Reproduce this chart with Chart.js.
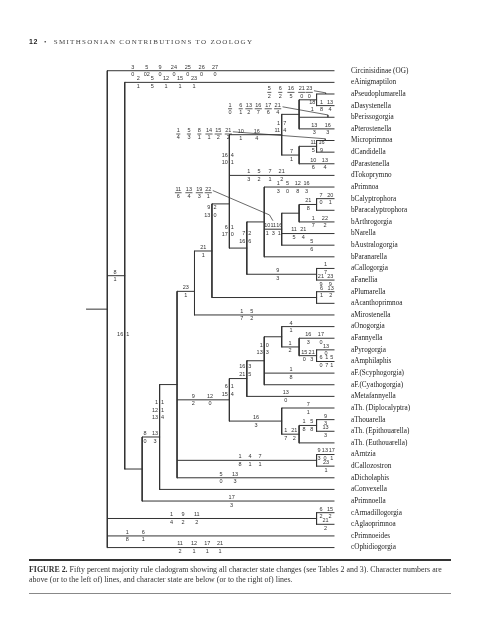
<!DOCTYPE html>
<html><head><meta charset="utf-8">
<script src="https://cdn.jsdelivr.net/npm/chart.js@4.4.0/dist/chart.umd.min.js"></script>
<style>
html,body{margin:0;padding:0;background:#fff;}
#wrap{position:relative;width:495px;height:640px;overflow:hidden;}
#c{position:absolute;left:0;top:0;}
.hdr{position:absolute;left:29px;top:38px;font:7px "Liberation Serif";letter-spacing:1.3px;color:#444;white-space:nowrap;}
.hdr b{font-family:"Liberation Sans";letter-spacing:0.5px;color:#222;}
.r1{position:absolute;left:29px;width:422px;top:559px;height:2px;background:#333;}
.r2{position:absolute;left:29px;width:422px;top:593px;height:1px;background:#888;}
.cap{position:absolute;left:29px;width:424px;top:565px;font:7.9px/9.7px "Liberation Serif";color:#333;}
</style></head><body>
<div id="wrap">
<canvas id="c" width="495" height="640"></canvas>
<div class="hdr"><b>12</b>&nbsp;&nbsp;•&nbsp;&nbsp;SMITHSONIAN CONTRIBUTIONS TO ZOOLOGY</div>
<div class="r1"></div>
<div class="cap"><b>FIGURE 2.</b> Fifty percent majority rule cladogram showing all character state changes (see Tables 2 and 3). Character numbers are above (or to the left of) lines, and character state are below (or to the right of) lines.</div>
<div class="r2"></div>
</div>
<script>
// ---------- DATA ----------
const taxa = ['Circinisidinae (OG)','eAinigmaptilon','aPseudoplumarella','aDasystenella','bPerissogorgia','aPterostenella','Microprimnoa','dCandidella','dParastenella','dTokoprymno','aPrimnoa','bCalyptrophora','bParacalyptrophora','bArthrogorgia','bNarella','bAustralogorgia','bParanarella','aCallogorgia','aFanellia','aPlumarella','aAcanthoprimnoa','aMirostenella','aOnogorgia','aFannyella','aPyrogorgia','aAmphilaphis','aF.(Scyphogorgia)','aF.(Cyathogorgia)','aMetafannyella','aTh. (Diplocalyptra)','aThouarella','aTh. (Epithouarella)','aTh. (Euthouarella)','aArntzia','dCallozostron','aDicholaphis','aConvexella','aPrimnoella','cArmadillogorgia','cAglaoprimnoa','cPrimnoeides','cOphidiogorgia'];

// clades: name and children (numbers = taxa indices)
const cladeNames = ['root','A','Q','S','C','D','E','I','F','G','L','K','J','N','O','QQ','RR','SS','FG','FF','T','U','W','X','Y','Z','V','AA','BB','CC','DD'];
const cladeKids = [
 [0,'A','DD',40,41], [1,'Q'], ['S',37], ['C',36], ['D','T','CC',35], ['E',21], ['I','FF'],
 ['F',9,'N'], ['G','K'], ['L',4,5], [2,3], ['J',8], [6,7], ['O','FG'], [10,'QQ',16],
 ['RR',14,15], ['SS',13], [11,12], [17,18], [19,20], ['U','V'], ['W',28], ['X',26,27],
 [22,'Y'], [23,'Z'], [24,25], [29,'AA'], ['BB',32], [30,31], [33,34], [38,39]
];

// character changes on horizontal branches: [branch, characters, states]
const hChars = [
 [0,'3 5 9 24 25 26 27','0 02 0 0 0 0 0'],
 [1,'2 5 12 15 23','1 5 1 1 1'],
 ['A','8','1'],
 [40,'1 6','8 1'],
 [41,'11 12 17 21','2 1 1 1'],
 ['DD','1 9 11','4 2 2'],
 [38,'6 15','2 2'],
 [39,'21','2'],
 [37,'17','3'],
 ['S','8 13','0 3'],
 [35,'5 13','0 3'],
 ['CC','1 4 7','8 1 1'],
 [33,'9 13 17','3 0 1'],
 [34,'23','1'],
 ['T','9 12','2 0'],
 ['V','16','3'],
 [28,'13','0'],
 [22,'4','1'],
 ['Y','1','2'],
 [23,'16 17','3 0'],
 ['Z','15 21','0 3'],
 [24,'13','0'],
 [25,'6 1 5','0 7 1'],
 [26,'1','8'],
 [29,'7','1'],
 ['AA','1 21','7 2'],
 ['BB','1 5','8 8'],
 [30,'9','3'],
 [31,'13','3'],
 [21,'1 5','7 2'],
 ['D','23','1'],
 ['E','21','1'],
 [19,'6 13','1 2'],
 ['F','10 16','1 4'],
 [9,'1 5 7 21','3 2 1 2'],
 [10,'1 5 12 16','3 0 8 3'],
 ['SS','21','8'],
 [11,'7 20','0 1'],
 [13,'1 22','7 2'],
 ['QQ','10 11 16','1 3 1'],
 [14,'11 21','5 4'],
 [15,'5','6'],
 ['FG','9','3'],
 [17,'1','7'],
 [18,'21 23','9 9'],
 ['J','11 16','5 9'],
 [8,'10 13','6 4'],
 ['K','7','1'],
 [5,'13 16','3 3'],
 [3,'18 1 13','1 8 4']
];
// character changes written along vertical lines: [node, characters, states]
const vChars = [
 ['A','16','1'], ['S','1 12 13','1 1 4'], ['T','6 15','1 4'], ['U','16 21','3 5'],
 ['W','1 13','0 3'], ['E','9 13','2 0'], ['I','16 10','4 1'], ['I','6 17','1 0'],
 ['N','7 16','2 6'], ['F','1 11','7 4']
];
// character changes written apart from short branches: [branch, characters, states]
const fChars = [
 [2,'5 6 16 21 23','2 2 5 0 0'],
 [4,'1 6 13 16 17 21','0 1 2 7 6 4'],
 [6,'1 5 8 14 15 21','4 3 1 1 2 2'],
 ['RR','11 13 19 22','6 4 3 1']
];

// ---------- LAYOUT (positions in axis units) ----------
const hCharAt = [
 [1.46,2.26,3.02,3.82,4.61,5.41,6.18],[1.78,2.58,3.37,4.17,4.97],[0.44],[1.15,2.06],[4.17,4.97,5.73,6.46],
 [3.69,4.34,5.13],[12.25,12.77],[12.52],[7.13],[2.16,2.74],[6.52,7.32],[7.61,8.18,8.76],[12.14,12.48,12.87],
 [12.54],[4.93,5.89],[8.53],[10.23],[10.53],[10.48],[11.53,12.25],[11.30,11.72],[12.54],[12.25,12.58,12.87],
 [10.53],[11.53],[10.23,10.72],[11.28,11.72],[12.52],[12.52],[7.71,8.28],[4.50],[5.50],[12.29,12.81],
 [7.65,8.57],[8.12,8.70,9.33,10.0],[9.81,10.34,10.92,11.43],[11.53],[12.25,12.79],[11.81,12.48],
 [9.17,9.52,9.86],[10.71,11.24],[11.72],[9.77],[12.52],[12.25,12.79],[11.81,12.29],[11.81,12.48],[10.57],
 [11.87,12.64],[11.75,12.29,12.77]
];
const vCharAt = [[22.64],[28.49,29.18,29.84],[27.11,27.83],[25.45,26.08],[23.59,24.25],[11.78,12.47],
 [7.25,7.91],[13.5,14.07],[13.98,14.64],[4.52,5.10]];
const fCharAt = [[9.29,9.92,10.53,11.15,11.58],[7.04,7.65,8.12,8.66,9.23,9.77],[4.07,4.68,5.28,5.83,6.36,6.94],[4.07,4.68,5.28,5.79]];
const fRow = [1.86,3.27,5.44,10.49];
const fLeader = [
 [[11.85,1.72],[12.52,1.9],[12.52,2]],
 [[10.05,3.1],[12.65,3.8],[12.65,4]],
 [[7.2,5.25],[12.5,5.85],[12.5,6]],
 [[6.05,10.3],[9.3,12.4],[9.5,12.9]]
];
const rootStem = -1.2;
// drawn position of a few node stems (row units), where the drawing departs from the midpoint rule
const stemRow = {D:18.97, E:15.5, I:11.45};

// ---------- TREE GEOMETRY ----------
const kidsOf = {}; cladeNames.forEach((n,i)=>kidsOf[n]=cladeKids[i]);
const H = {};
function height(n){ if(typeof n==='number') return 0; if(H[n]!==undefined) return H[n]; return H[n]=1+Math.max(...kidsOf[n].map(height)); }
const TOP = height('root');
const X = n => TOP - height(n);
function Y(n){ if(typeof n==='number') return n; if(stemRow[n]!==undefined) return stemRow[n];
  const k=kidsOf[n]; return (Y(k[0])+Y(k[k.length-1]))/2; }

const treePts = [];
function seg(arr,x1,y1,x2,y2){ arr.push({x:x1,y:y1},{x:x2,y:y2},{x:x2,y:null}); }
cladeNames.forEach(n=>{
  const k=kidsOf[n], x=X(n);
  seg(treePts,x,Y(k[0]),x,Y(k[k.length-1]));
  k.forEach(c=>seg(treePts,x,Y(c),X(c),Y(c)));
});
seg(treePts,rootStem,Y('root'),0,Y('root'));
const leaderPts = [];
fLeader.forEach(p=>{ p.forEach(q=>leaderPts.push({x:q[0],y:q[1]})); leaderPts.push({x:p[p.length-1][0],y:null}); });

const FONT = '5.5px "Liberation Sans"';
const labelPlugin = {
  id:'labels',
  afterDatasetsDraw(chart){
    const {ctx, scales:{x:xs, y:ys}} = chart;
    ctx.save(); ctx.font = FONT; ctx.fillStyle = '#333'; ctx.textBaseline='middle';
    ctx.textAlign='center';
    hChars.forEach((h,i)=>{
      const yp = ys.getPixelForValue(Y(h[0]));
      const cs=h[1].split(' '), ss=h[2].split(' ');
      cs.forEach((c,j)=>{ const xp=xs.getPixelForValue(hCharAt[i][j]);
        ctx.fillText(c,xp,yp-3.6); ctx.fillText(ss[j],xp,yp+4.0); });
    });
    vChars.forEach((v,i)=>{
      const xp = xs.getPixelForValue(X(v[0]));
      const cs=v[1].split(' '), ss=v[2].split(' ');
      cs.forEach((c,j)=>{ const yp=ys.getPixelForValue(vCharAt[i][j]);
        ctx.textAlign='right'; ctx.fillText(c,xp-1.5,yp);
        ctx.textAlign='left'; ctx.fillText(ss[j],xp+1.5,yp); });
    });
    ctx.textAlign='center'; ctx.strokeStyle='#333'; ctx.lineWidth=0.8;
    fChars.forEach((f,i)=>{
      const yp = ys.getPixelForValue(fRow[i]);
      const cs=f[1].split(' '), ss=f[2].split(' ');
      cs.forEach((c,j)=>{ const xp=xs.getPixelForValue(fCharAt[i][j]);
        const w=Math.max(ctx.measureText(c).width,ctx.measureText(ss[j]).width)+1;
        ctx.beginPath(); ctx.moveTo(xp-w/2,yp); ctx.lineTo(xp+w/2,yp); ctx.stroke();
        ctx.fillText(c,xp,yp-3.4); ctx.fillText(ss[j],xp,yp+3.8); });
    });
    ctx.restore();
  }
};

new Chart(document.getElementById('c'), {
  type:'scatter',
  data:{datasets:[
    {data:treePts, showLine:true, borderColor:'#333', borderWidth:1, pointRadius:0, spanGaps:false, borderCapStyle:'square'},
    {data:leaderPts, showLine:true, borderColor:'#444', borderWidth:0.8, pointRadius:0, spanGaps:false}
  ]},
  options:{
    responsive:false, animation:false, events:[],
    layout:{padding:{left:28, top:65.5, bottom:87.2, right:0}},
    plugins:{legend:{display:false}, tooltip:{enabled:false}},
    scales:{
      x:{type:'linear', display:false, min:-4.547, max:13.115},
      y:{type:'linear', position:'right', reverse:true, min:-0.45, max:41.45,
         grid:{display:false}, border:{display:false},
         afterBuildTicks(s){ s.ticks = taxa.map((t,i)=>({value:i})); },
         afterFit(s){ s.width = 159; },
         ticks:{autoSkip:false, padding:7, color:'#222', font:{family:'Liberation Serif', size:7.2},
           callback:(v)=>taxa[v]}
      }
    }
  },
  plugins:[labelPlugin]
});
</script>
</body></html>
